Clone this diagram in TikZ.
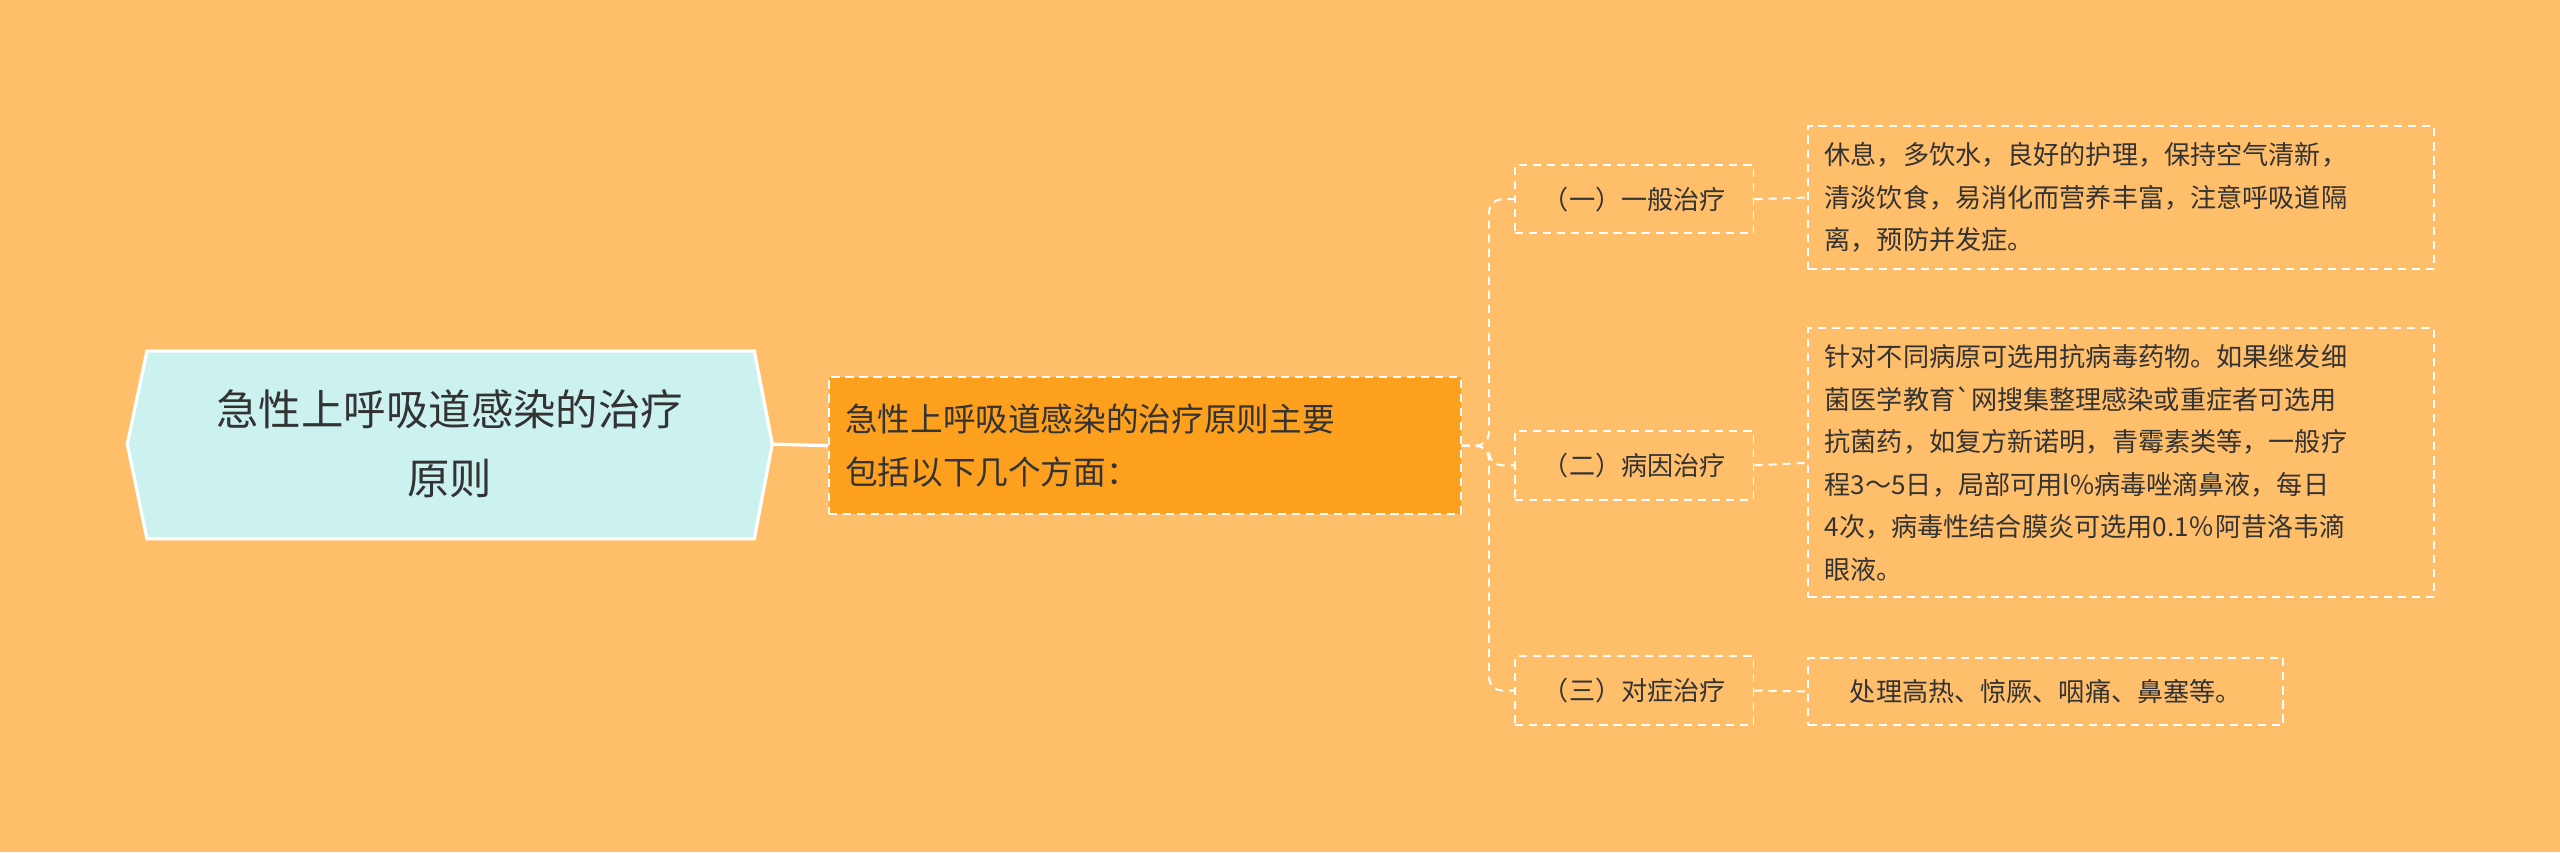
\documentclass[tikz,border=0pt]{standalone}
\usepackage{fontspec}
\setmainfont{Noto Sans CJK SC}
\definecolor{bg}{RGB}{255,190,106}
\definecolor{rootfill}{RGB}{204,242,240}
\definecolor{midfill}{RGB}{252,160,30}
\definecolor{txt}{RGB}{51,51,51}
\tikzset{
  dbox/.style={draw=white, dash pattern=on 2.5pt off 1.8pt, line width=0.6pt, inner sep=5pt, align=left, text=txt, anchor=west},
  conn/.style={draw=white, dash pattern=on 2.5pt off 1.8pt, line width=0.6pt, rounded corners=4pt},
  leaf/.style={dbox, font=\fontsize{8}{13}\selectfont},
  lvl/.style={dbox, font=\fontsize{8}{13}\selectfont, minimum width=73pt, minimum height=21pt, align=center, anchor=center}
}
\begin{document}
\begin{tikzpicture}[x=1pt,y=-1pt]
\fill[bg] (0,0) rectangle (784,261);
\useasboundingbox (0,0) rectangle (784,261);
% root
\fill[rootfill, draw=white, line width=1pt] (39,136) -- (45,107.5) -- (231,107.5) -- (236.5,136) -- (231,165) -- (45,165) -- cycle;
\node[align=center, text=txt, font=\fontsize{13}{21}\selectfont] (root) at (137.75,136) {急性上呼吸道感染的治疗\\原则};
\coordinate (rootr) at (236.5,136);
% mid
\node[dbox, fill=midfill, minimum width=193.5pt, minimum height=42pt, text width=183.5pt, font=\fontsize{10}{16}\selectfont] (mid) at (253.5,136.5) {急性上呼吸道感染的治疗原则主要\\包括以下几个方面：};
\draw[white, line width=1pt] (rootr) -- (mid.west);
% level 2
\node[lvl] (a) at (500.5,61) {（一）一般治疗};
\node[lvl] (b) at (500.5,142.5) {（二）病因治疗};
\node[lvl] (c) at (500.5,211.5) {（三）对症治疗};
\coordinate (trunk) at (456,0);
\draw[conn] (mid.east) -- (mid.east -| trunk) |- (a.west);
\draw[conn] (mid.east) -- (mid.east -| trunk) |- (b.west);
\draw[conn] (mid.east) -- (mid.east -| trunk) |- (c.west);
% leaves
\node[leaf, minimum width=191.5pt, text width=181.5pt, minimum height=44pt] (la) at (553.5,60.5) {休息，多饮水，良好的护理，保持空气清新，\\清淡饮食，易消化而营养丰富，注意呼吸道隔\\离，预防并发症。};
\node[leaf, minimum width=191.5pt, text width=181.5pt, minimum height=78.5pt] (lb) at (553.5,141.75) {针对不同病原可选用抗病毒药物。如果继发细\\菌医学教育\textasciigrave 网搜集整理感染或重症者可选用\\抗菌药，如复方新诺明，青霉素类等，一般疗\\程3～5日，局部可用l\%病毒唑滴鼻液，每日\\4次，病毒性结合膜炎可选用0.1％阿昔洛韦滴\\眼液。};
\node[leaf, minimum width=145.5pt, minimum height=20.5pt] (lc) at (553.5,211.75) {处理高热、惊厥、咽痛、鼻塞等。};
\draw[conn] (a.east) -- (la.west);
\draw[conn] (b.east) -- (lb.west);
\draw[conn] (c.east) -- (lc.west);
\end{tikzpicture}
\end{document}
